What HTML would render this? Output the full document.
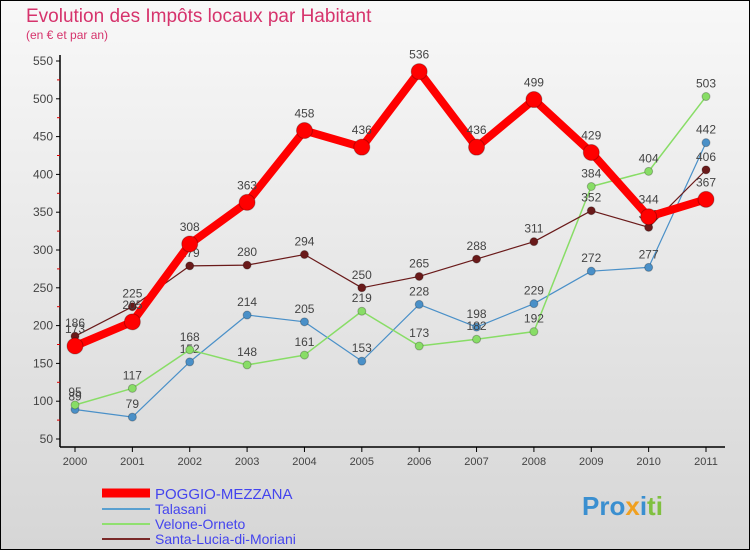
<!DOCTYPE html>
<html><head><meta charset="utf-8"><style>
body{margin:0;width:750px;height:550px;overflow:hidden;font-family:"Liberation Sans",sans-serif}
</style></head><body>
<svg width="750" height="550" xmlns="http://www.w3.org/2000/svg">
<defs><linearGradient id="bg" x1="0" y1="0" x2="0" y2="1"><stop offset="0" stop-color="#f8f8f8"/><stop offset="1" stop-color="#d6d6d6"/></linearGradient></defs>
<rect x="0.5" y="0.5" width="749" height="549" fill="url(#bg)" stroke="#000"/>
<text x="26" y="22" font-size="19" fill="#d6336c">Evolution des Impôts locaux par Habitant</text>
<text x="26" y="39" font-size="12" fill="#d6336c">(en € et par an)</text>
<g id="axes"></g><g id="series"></g>
<g>
<line x1="102" y1="493" x2="150" y2="493" stroke="#ff0000" stroke-width="9"/>
<text x="155" y="499" font-size="15" fill="#4444ee">POGGIO-MEZZANA</text>
<line x1="102" y1="509" x2="150" y2="509" stroke="#5aa0d0" stroke-width="2"/>
<text x="155" y="514" font-size="14" fill="#4444ee">Talasani</text>
<line x1="102" y1="524" x2="150" y2="524" stroke="#90e070" stroke-width="2"/>
<text x="155" y="529" font-size="14" fill="#4444ee">Velone-Orneto</text>
<line x1="102" y1="539" x2="150" y2="539" stroke="#7a2a2a" stroke-width="2"/>
<text x="155" y="544" font-size="14" fill="#4444ee">Santa-Lucia-di-Moriani</text>
</g>
<g font-size="26" font-weight="bold">
<text x="582" y="515"><tspan fill="#3a8fd0">Pro</tspan><tspan fill="#f0a020">x</tspan><tspan fill="#3a8fd0">i</tspan><tspan fill="#80c040">ti</tspan></text>
</g>
</svg>
<script>
const years=[2000,2001,2002,2003,2004,2005,2006,2007,2008,2009,2010,2011];
const poggio=[173,205,308,363,458,436,536,436,499,429,344,367];
const talasani=[89,79,152,214,205,153,228,198,229,272,277,442];
const velone=[95,117,168,148,161,219,173,182,192,384,404,503];
const santa=[186,225,279,280,294,250,265,288,311,352,330,406];
const yTicks=[50,100,150,200,250,300,350,400,450,500,550];
const NS="http://www.w3.org/2000/svg";
const X=i=>75+i*(706-75)/11;
const Y=v=>439-(v-50)*378/500;
function mk(t,a,p){const e=document.createElementNS(NS,t);for(const k in a)e.setAttribute(k,a[k]);p.appendChild(e);return e;}
const ax=document.getElementById('axes');
const yl=mk('line',{x1:60,y1:55,x2:60,y2:447,stroke:'#000','stroke-width':1.5},ax);


const xl=mk('line',{x1:60,y1:447,x2:725,y2:447,stroke:'#000','stroke-width':1.5},ax);


yTicks.forEach((v,i)=>{
 mk('line',{x1:56,y1:Y(v),x2:60,y2:Y(v),stroke:'#000'},ax);
 if(i<yTicks.length-1) mk('line',{x1:57,y1:Y(v+25),x2:60,y2:Y(v+25),stroke:'#d00'},ax);
 const t=mk('text',{x:53,y:Y(v)+4,'font-size':12,'text-anchor':'end',fill:'#444'},ax);t.textContent=v;
 
 
});
years.forEach((y,i)=>{
 mk('line',{x1:X(i),y1:447,x2:X(i),y2:452,stroke:'#000'},ax);
 const t=mk('text',{x:X(i),y:465,'font-size':11,'text-anchor':'middle',fill:'#444'},ax);t.textContent=y;
 
 
});
const sg=document.getElementById('series');
function draw(data,color,w,r,name){
 const g=mk('g',{},sg);
 
 
 const pl=mk('polyline',{points:data.map((v,i)=>X(i)+','+Y(v)).join(' '),fill:'none',stroke:color,'stroke-width':w,'stroke-linejoin':'round'},g);
 
 
 data.forEach((v,i)=>{
  const c=mk('circle',{cx:X(i),cy:Y(v),r:r,fill:color,stroke:'rgba(0,0,0,0.25)'},g);
  
  
  const t=mk('text',{x:X(i),y:Y(v)-(r+5),'font-size':12,'text-anchor':'middle',fill:'#444'},g);t.textContent=v;
  
  
 });
}
draw(talasani,'#4a90c8',1.2,4,'series-talasani');
draw(velone,'#88dd66',1.5,4,'series-velone');
draw(santa,'#6a1a1a',1.2,4,'series-santa');
draw(poggio,'#ff0000',8,8,'series-poggio');
</script>
</body></html>
